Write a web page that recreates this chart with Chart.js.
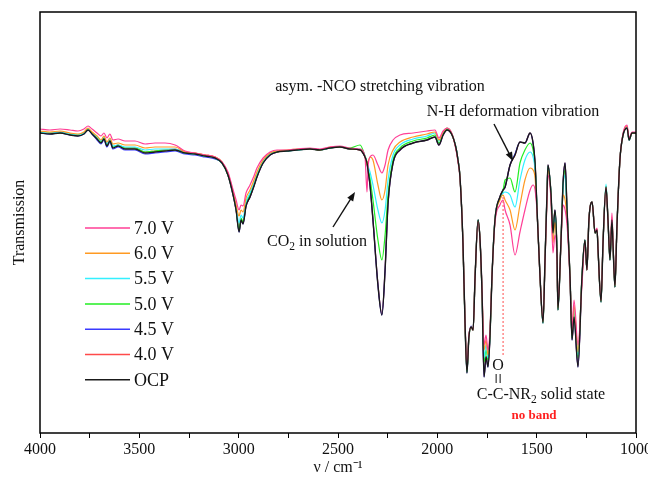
<!DOCTYPE html>
<html lang="en">
<head>
<meta charset="UTF-8">
<title>IR spectra at different potentials</title>
<script src="https://cdn.jsdelivr.net/npm/chart.js@4.4.1/dist/chart.umd.min.js"></script>
<style>
    body { margin: 0; background: #fff; }
    #wrap { width: 648px; height: 479px; }
</style>
</head>
<body>
<div id="wrap"><canvas id="irChart" width="648" height="479"></canvas></div>
<script>
// wavenumber grid (cm-1), shared by every spectrum
const wavenumbers = [
    4000,3950,3899,3849,3809,3779,3758,3738,3713,3693,
    3678,3663,3648,3633,3607,3572,3522,3471,3421,3371,
    3320,3270,3220,3169,3119,3084,3054,3028,3013,2998,
    2988,2978,2963,2943,2923,2908,2877,2842,2807,2757,
    2706,2641,2591,2540,2490,2440,2389,2364,2354,2349,
    2339,2324,2299,2279,2263,2248,2223,2188,2122,2052,
    2012,1992,1971,1951,1926,1906,1896,1886,1871,1861,
    1851,1841,1830,1820,1810,1795,1785,1775,1765,1755,
    1745,1735,1725,1710,1685,1669,1659,1634,1609,1584,
    1559,1533,1518,1508,1498,1483,1468,1458,1448,1443,
    1428,1418,1408,1398,1393,1378,1367,1357,1347,1332,
    1322,1312,1292,1272,1257,1247,1237,1221,1206,1196,
    1191,1176,1166,1151,1141,1131,1121,1116,1106,1096,
    1081,1065,1045,1035,1020,1000
];

// transmission (arbitrary units) for each potential
const t70 = [
    304,303,304,303,302,304,307,304,300,297,
    300,295,299,293,294,292,292,289,290,290,
    288,282,280,278,276,271,261,243,233,223,
    228,227,240,248,257,265,275,281,283,283,
    284,285,284,286,287,285,284,276,241,265,
    276,278,268,260,268,283,293,298,300,302,
    303,295,302,305,299,283,271,255,190,115,
    65,98,106,103,156,211,193,143,88,98,
    83,103,156,210,228,233,223,208,178,201,
    223,243,248,243,221,156,113,171,233,258,
    233,180,198,175,128,188,228,223,208,153,
    103,133,88,148,191,163,213,231,201,205,
    183,133,190,245,213,178,220,193,148,206,
    273,300,308,295,301,301
];
const t60 = [
    302,301,302,300,299,301,305,301,297,293,
    297,291,295,289,290,288,288,285,286,286,
    286,281,280,278,276,271,260,241,228,217,
    223,221,235,243,253,261,273,280,282,283,
    284,284,283,286,286,284,283,276,268,271,
    276,273,248,233,243,268,283,291,296,299,
    301,293,301,305,299,284,272,256,190,113,
    63,97,106,103,156,212,193,141,83,93,
    78,100,156,212,233,238,233,223,203,228,
    253,265,263,255,222,156,111,172,236,263,
    237,190,211,179,125,189,238,233,215,155,
    98,128,81,153,192,163,213,231,200,204,
    183,132,190,246,213,175,216,191,147,206,
    273,299,307,294,300,300
];
const t55 = [
    301,300,301,299,298,300,304,300,296,292,
    296,289,294,287,288,286,286,283,284,284,
    284,280,279,277,275,270,259,240,226,210,
    218,215,231,240,250,259,272,279,282,282,
    283,284,283,285,286,284,284,277,270,267,
    261,248,223,210,223,253,278,288,294,297,
    300,292,301,305,299,285,273,256,190,113,
    62,96,106,103,156,213,193,140,75,88,
    75,98,156,213,234,240,241,238,226,253,
    273,281,276,263,223,156,110,173,238,266,
    239,195,218,181,124,190,245,258,220,156,
    96,125,78,155,193,163,213,231,200,203,
    183,131,190,249,213,174,215,190,146,206,
    273,299,306,293,300,300
];
const t50 = [
    301,300,300,299,298,300,304,300,295,291,
    295,288,293,286,288,285,285,281,282,283,
    283,280,279,277,275,270,258,239,224,203,
    215,211,229,238,248,257,271,279,281,282,
    283,284,283,285,286,285,288,277,270,265,
    255,233,193,173,198,238,273,285,292,295,
    298,290,299,304,298,285,273,256,190,113,
    61,96,106,103,156,213,193,140,71,83,
    73,97,156,213,235,243,253,255,241,270,
    283,290,283,268,223,156,110,173,239,267,
    240,198,221,182,123,190,248,263,221,156,
    95,121,75,156,193,163,213,231,200,203,
    183,131,190,247,213,173,214,190,146,206,
    273,298,306,293,300,300
];
const t45 = [
    300,299,300,298,297,299,303,299,293,289,
    293,286,291,284,286,283,283,279,280,281,
    282,279,278,276,274,270,258,238,223,201,
    213,209,227,236,247,256,270,278,281,282,
    283,284,283,285,286,284,283,276,270,263,
    248,213,148,118,163,230,270,283,290,293,
    296,288,298,303,298,285,273,256,190,113,
    60,97,107,103,156,213,193,140,56,76,
    66,96,156,213,236,243,246,268,279,291,
    290,300,290,270,223,156,110,173,240,268,
    240,200,223,183,123,190,250,270,223,156,
    93,116,66,156,193,163,213,231,200,203,
    183,131,190,246,213,173,213,190,146,206,
    273,298,305,293,300,300
];
const t40 = [
    301,300,301,299,298,300,304,300,295,291,
    295,288,293,286,288,285,285,281,282,283,
    284,281,280,278,276,271,258,238,223,202,
    213,210,227,236,247,256,270,278,281,282,
    283,284,283,285,286,284,283,276,270,263,
    248,213,149,119,163,230,270,283,290,293,
    296,288,298,303,298,285,273,256,190,114,
    61,96,106,103,156,213,193,140,57,77,
    67,96,156,213,236,243,246,268,278,291,
    290,300,290,270,223,156,111,173,240,268,
    240,200,223,183,124,190,250,270,223,156,
    94,117,67,156,193,163,213,231,200,203,
    183,132,190,246,213,173,213,190,146,206,
    273,298,305,293,300,300
];
const tOCP = [
    300,299,300,298,297,299,303,299,294,290,
    294,287,292,285,287,284,284,280,281,282,
    283,280,279,277,275,270,258,238,223,201,
    213,209,227,236,247,256,270,278,281,282,
    283,284,283,285,286,284,283,276,270,263,
    248,213,148,118,163,230,270,283,290,293,
    296,288,298,303,298,285,273,256,190,113,
    60,96,106,103,156,213,193,140,56,76,
    66,96,156,213,236,243,246,268,278,291,
    290,300,290,270,223,156,110,173,240,268,
    240,200,223,183,123,190,250,270,223,156,
    93,116,66,156,193,163,213,231,200,203,
    183,131,190,246,213,173,213,190,146,206,
    273,298,305,293,300,300
];

const seriesLabels = ['7.0 V', '6.0 V', '5.5 V', '5.0 V', '4.5 V', '4.0 V', 'OCP'];
const seriesColors = ['#ff3f96', '#ff9a22', '#33f0ff', '#22ee22', '#3a3aff', '#ff4a4a', '#1a1a1a'];
const seriesValues = [t70, t60, t55, t50, t45, t40, tOCP];

const xTicks = [4000, 3750, 3500, 3250, 3000, 2750, 2500, 2250, 2000, 1750, 1500, 1250, 1000];
const xTickLabels = [4000, 3500, 3000, 2500, 2000, 1500, 1000];

// amide C=O (solid state) position marked with the dotted line
const amideBand = 1669;
const amideLineTop = 236;
const amideLineBottom = 78;

const FONT = "'Liberation Serif', 'Times New Roman', serif";

// draws text with subscript parts, centred on cx
function richText(ctx, parts, cx, cy, size) {
    let total = 0;
    parts.forEach(p => {
        ctx.font = (p.sub ? size * 0.72 : size) + 'px ' + FONT;
        p.w = ctx.measureText(p.t).width;
        total += p.w;
    });
    let x = cx - total / 2;
    const start = x;
    parts.forEach(p => {
        ctx.font = (p.sub ? size * 0.72 : size) + 'px ' + FONT;
        ctx.fillText(p.t, x, p.sub ? cy + size * 0.3 : cy);
        x += p.w;
    });
    return start;
}

function arrow(ctx, x1, y1, x2, y2) {
    const a = Math.atan2(y2 - y1, x2 - x1);
    const len = 9, half = 3.5;
    ctx.beginPath();
    ctx.moveTo(x1, y1);
    ctx.lineTo(x2 - Math.cos(a) * len * 0.8, y2 - Math.sin(a) * len * 0.8);
    ctx.stroke();
    ctx.beginPath();
    ctx.moveTo(x2, y2);
    ctx.lineTo(x2 - Math.cos(a) * len - Math.sin(a) * half, y2 - Math.sin(a) * len + Math.cos(a) * half);
    ctx.lineTo(x2 - Math.cos(a) * len + Math.sin(a) * half, y2 - Math.sin(a) * len - Math.cos(a) * half);
    ctx.closePath();
    ctx.fill();
}

const decorations = {
    id: 'decorations',
    afterDatasetsDraw(chart) {
        const ctx = chart.ctx;
        const area = chart.chartArea;
        const xs = chart.scales.x, ys = chart.scales.y;
        ctx.save();

        // frame
        ctx.strokeStyle = '#000';
        ctx.lineWidth = 1.5;
        ctx.strokeRect(area.left, area.top, area.right - area.left, area.bottom - area.top);

        // dotted marker line
        const mx = xs.getPixelForValue(amideBand);
        ctx.strokeStyle = '#ff6b6b';
        ctx.lineWidth = 1.2;
        ctx.setLineDash([2, 2]);
        ctx.beginPath();
        ctx.moveTo(mx, ys.getPixelForValue(amideLineTop));
        ctx.lineTo(mx, ys.getPixelForValue(amideLineBottom));
        ctx.stroke();
        ctx.setLineDash([]);

        ctx.fillStyle = '#111';
        ctx.strokeStyle = '#111';
        ctx.textBaseline = 'middle';
        ctx.textAlign = 'left';
        richText(ctx, [{ t: 'asym. -NCO stretching vibration' }], 380, 87, 16);
        richText(ctx, [{ t: 'N-H deformation vibration' }], 513, 112, 16);
        richText(ctx, [{ t: 'CO' }, { t: '2', sub: true }, { t: ' in solution' }], 317, 242, 16);

        // C=O amide label
        const s = richText(ctx, [{ t: 'C-C-NR' }, { t: '2', sub: true }, { t: ' solid state' }], 541, 395, 16);
        ctx.font = '16px ' + FONT;
        const cx = s + ctx.measureText('C-').width + ctx.measureText('C').width / 2;
        ctx.textAlign = 'center';
        ctx.fillText('O', cx, 366);
        ctx.lineWidth = 1;
        ctx.beginPath();
        ctx.moveTo(cx - 2, 374); ctx.lineTo(cx - 2, 383);
        ctx.moveTo(cx + 2, 374); ctx.lineTo(cx + 2, 383);
        ctx.stroke();

        ctx.fillStyle = '#ff1f1f';
        ctx.font = 'bold 13px ' + FONT;
        ctx.fillText('no band', 534, 416);

        // arrows
        ctx.fillStyle = '#111';
        ctx.lineWidth = 1.4;
        arrow(ctx, 333, 227, 355, 192);
        arrow(ctx, 494, 124, 513, 161);

        // legend
        ctx.textAlign = 'left';
        ctx.font = '18px ' + FONT;
        seriesLabels.forEach((label, i) => {
            const y = 228 + i * 25.3;
            ctx.strokeStyle = seriesColors[i];
            ctx.lineWidth = 1.5;
            ctx.beginPath();
            ctx.moveTo(85, y);
            ctx.lineTo(130, y);
            ctx.stroke();
            ctx.fillStyle = '#111';
            ctx.fillText(label, 134, y + 1);
        });
        ctx.restore();
    }
};

const datasets = seriesLabels.map((label, i) => ({
    label: label,
    data: wavenumbers.map((w, k) => ({ x: w, y: seriesValues[i][k] })),
    borderColor: seriesColors[i],
    borderWidth: i === 6 ? 1.4 : 1.2,
    pointRadius: 0,
    cubicInterpolationMode: 'monotone',
    order: i === 6 ? 0 : i + 1
}));

new Chart(document.getElementById('irChart'), {
    type: 'line',
    data: { datasets: datasets },
    plugins: [decorations],
    options: {
        responsive: false,
        animation: false,
        layout: { padding: { top: 12, right: 12, left: 0, bottom: 0 } },
        plugins: { legend: { display: false }, tooltip: { enabled: false } },
        scales: {
            x: {
                type: 'linear',
                reverse: true,
                min: 1000,
                max: 4000,
                afterBuildTicks: s => { s.ticks = xTicks.map(v => ({ value: v })); },
                afterFit: s => { s.height = 46; s.paddingLeft = 0; s.paddingRight = 0; },
                ticks: {
                    autoSkip: false,
                    maxRotation: 0,
                    padding: 2,
                    color: '#111',
                    font: { family: FONT, size: 16 },
                    callback: v => xTickLabels.includes(v) ? String(v) : ''
                },
                grid: { drawOnChartArea: false, drawTicks: true, tickLength: 5, color: '#000', lineWidth: 1 },
                border: { display: false },
                title: {
                    display: true,
                    text: 'ν / cm⁻¹',
                    color: '#111',
                    font: { family: FONT, size: 16 },
                    padding: { top: 0, bottom: 2 }
                }
            },
            y: {
                min: 0,
                max: 421,
                afterFit: s => { s.width = 40; },
                ticks: { display: false },
                grid: { display: false },
                border: { display: false },
                title: {
                    display: true,
                    text: 'Transmission',
                    color: '#111',
                    font: { family: FONT, size: 16 },
                    padding: { top: 10, bottom: 0 }
                }
            }
        }
    }
});
</script>
</body>
</html>
